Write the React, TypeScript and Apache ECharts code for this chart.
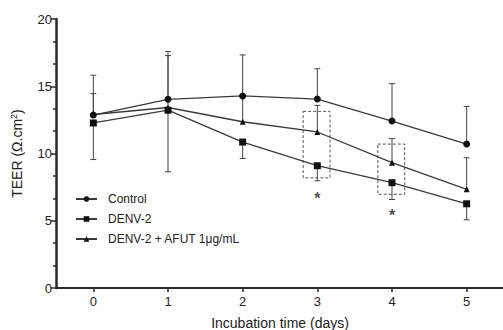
import React, { useEffect, useRef } from "react";
import * as echarts from "echarts";

const days = ["0", "1", "2", "3", "4", "5"];
const control = [12.86, 14.03, 14.28, 14.05, 12.41, 10.7];
const denv2 = [12.27, 13.22, 10.85, 9.09, 7.83, 6.26];
const denvAfut = [12.9, 13.42, 12.36, 11.6, 9.32, 7.34];
const controlUpper = [15.82, 17.58, 17.33, 16.3, 15.19, 13.5];
const afutUpper = [14.45, 17.28, 14.25, 13.58, 11.12, 9.68];
const denv2Lower = [9.55, 8.64, 9.63, 7.97, 6.58, 5.07];
const sigDays = [3, 4];
const sigY = [6.9, 5.6];
const boxes = [
  [3, 13.13, 8.19],
  [4, 10.7, 6.97],
];
const names = ["Control", "DENV-2", "DENV-2 + AFUT 1μg/mL"];

const FONT = "Liberation Sans, Arial, sans-serif";
const INK = "#222";

function errSeries(means: number[], ends: number[]) {
  return {
    type: "custom",
    silent: true,
    z: 1,
    data: days.map((d, i) => [i, means[i], ends[i]]),
    renderItem: (params: any, api: any) => {
      const x = api.value(0);
      const m = api.coord([x, api.value(1)]);
      const e = api.coord([x, api.value(2)]);
      const style = { stroke: "#444", lineWidth: 1 };
      return {
        type: "group",
        children: [
          { type: "line", shape: { x1: m[0], y1: m[1], x2: e[0], y2: e[1] }, style },
          { type: "line", shape: { x1: e[0] - 3, y1: e[1], x2: e[0] + 3, y2: e[1] }, style },
        ],
      };
    },
  };
}

export default function App() {
  const ref = useRef<HTMLDivElement>(null);
  useEffect(() => {
    if (!ref.current) return;
    const chart = echarts.init(ref.current, null, { renderer: "svg" });
    const lineStyle = { color: "#3a3a3a", width: 1.3 };
    const mk = (name: string, vals: number[], symbol: string, size: number) => ({
      name,
      type: "line",
      data: vals,
      symbol,
      symbolSize: size,
      lineStyle,
      itemStyle: { color: "#111" },
      z: 3,
    });
    chart.setOption({
      animation: false,
      textStyle: { fontFamily: FONT },
      grid: { left: 56, top: 19, right: -1, bottom: 42, containLabel: false, outerBoundsMode: "none" },
      legend: {
        data: names,
        orient: "vertical",
        left: 75,
        top: 193,
        padding: 0,
        itemWidth: 21,
        itemHeight: 7,
        itemGap: 8,
        textStyle: { fontSize: 12, color: INK, fontFamily: FONT, padding: [0, 0, 0, 6] },
      },
      xAxis: {
        type: "category",
        data: days,
        boundaryGap: true,
        name: "Incubation time (days)",
        nameLocation: "middle",
        nameGap: 28,
        nameTextStyle: { fontSize: 14, color: INK, fontFamily: FONT },
        axisLine: { show: true, lineStyle: { color: "#2a2a2a", width: 2 } },
        axisTick: { show: true, alignWithLabel: true, length: 4, lineStyle: { color: "#2a2a2a", width: 1.5 } },
        axisLabel: { fontSize: 13, color: INK, margin: 7, fontFamily: FONT },
        splitLine: { show: false },
      },
      yAxis: {
        type: "value",
        min: 0,
        max: 20,
        interval: 5,
        name: "{a|TEER (Ω.cm}{s|2}{a|)}",
        nameLocation: "middle",
        nameGap: 32,
        nameTextStyle: {
          rich: {
            a: { fontSize: 14, color: INK, fontFamily: FONT },
            s: { fontSize: 9, color: INK, fontFamily: FONT, verticalAlign: "top", padding: [0, 0, 6, 0] },
          },
        },
        axisLine: { show: true, onZero: false, lineStyle: { color: "#2a2a2a", width: 2.5 } },
        axisTick: { show: true, length: 5, lineStyle: { color: "#2a2a2a", width: 1.5 } },
        minorTick: { show: true, splitNumber: 3, length: 3, lineStyle: { color: "#2a2a2a", width: 1.5 } },
        axisLabel: { fontSize: 13, color: INK, margin: 4, fontFamily: FONT },
        splitLine: { show: false },
      },
      series: [
        errSeries(control, controlUpper),
        errSeries(denvAfut, afutUpper),
        errSeries(denv2, denv2Lower),
        {
          type: "custom",
          silent: true,
          z: 0,
          data: boxes,
          renderItem: (params: any, api: any) => {
            const band = api.size([1, 0])[0];
            const top = api.coord([api.value(0), api.value(1)]);
            const bot = api.coord([api.value(0), api.value(2)]);
            const x0 = top[0] - band * 0.19;
            const x1 = top[0] + band * 0.17;
            return {
              type: "rect",
              shape: { x: x0, y: top[1], width: x1 - x0, height: bot[1] - top[1] },
              style: { fill: "none", stroke: "#555", lineWidth: 1, lineDash: [3, 2] },
            };
          },
        },
        mk(names[0], control, "circle", 7),
        mk(names[1], denv2, "rect", 7),
        mk(names[2], denvAfut, "triangle", 6),
        {
          type: "scatter",
          silent: true,
          data: sigDays.map((d, i) => [d, sigY[i]]),
          symbolSize: 0.01,
          label: {
            show: true,
            position: "inside",
            formatter: "*",
            offset: [0, 3],
            fontSize: 16,
            fontWeight: "bold",
            color: INK,
            fontFamily: FONT,
          },
        },
      ],
    });
    return () => chart.dispose();
  }, []);
  return (
    <div
      ref={ref}
      style={{ position: "fixed", left: 0, top: 0, width: 503, height: 330, background: "#fff" }}
    />
  );
}
